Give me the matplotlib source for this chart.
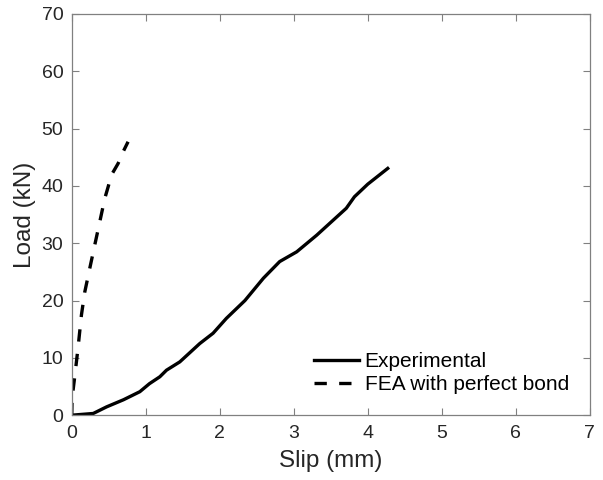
import matplotlib.pyplot as plt

plt.rcParams["font.family"] = ["Liberation Sans", "DejaVu Sans"]

# Load-slip response, measured
exp_slip = [0, 0.29, 0.47, 0.70, 0.92, 1.05, 1.19, 1.28, 1.46, 1.73, 1.91,
            2.09, 2.34, 2.59, 2.81, 3.04, 3.31, 3.71, 3.82, 4.00, 4.27]
exp_load = [0, 0.3, 1.45, 2.7, 4.1, 5.5, 6.7, 7.85, 9.3, 12.5, 14.3,
            16.9, 20.0, 23.9, 26.8, 28.5, 31.4, 36.1, 38.1, 40.3, 43.05]

# Load-slip response, finite element model with perfect bond
fea_slip = [0, 0.005, 0.04, 0.086, 0.131, 0.176, 0.243, 0.311, 0.378,
            0.446, 0.491, 0.536, 0.626, 0.694, 0.761]
fea_load = [0, 3.0, 6.7, 11.9, 17.5, 21.5, 25.6, 29.7, 33.7,
            37.8, 39.8, 41.9, 43.9, 45.95, 47.7]

fig = plt.figure(figsize=(6.03, 4.8), dpi=100)
ax = fig.add_axes([0.119, 0.135, 0.859, 0.836])

ax.plot(exp_slip, exp_load, color="black", linewidth=2.4, label="Experimental")
ax.plot(fea_slip, fea_load, color="black", linewidth=2.4, linestyle=(0, (3.7, 3.7)),
        label="FEA with perfect bond")

ax.set_xlim(0, 7)
ax.set_ylim(0, 70)
ax.set_xticks(range(0, 8))
ax.set_yticks(range(0, 71, 10))
ax.tick_params(direction="in", length=5, width=0.8, color="#808080",
               labelsize=14, labelcolor="#262626", top=True, right=True)
ax.tick_params(axis="x", pad=7)
ax.tick_params(axis="y", pad=6)
for sp in ax.spines.values():
    sp.set_color("#808080")
    sp.set_linewidth(0.9)

ax.set_xlabel("Slip (mm)", fontsize=17.5, color="#262626", labelpad=6)
ax.set_ylabel("Load (kN)", fontsize=17.5, color="#262626", labelpad=4)

ax.legend(loc="lower right", frameon=False, fontsize=15, handlelength=2.2,
          handletextpad=0.25, borderaxespad=0.6, labelspacing=0.2)

fig.savefig("out.png", dpi=100)
